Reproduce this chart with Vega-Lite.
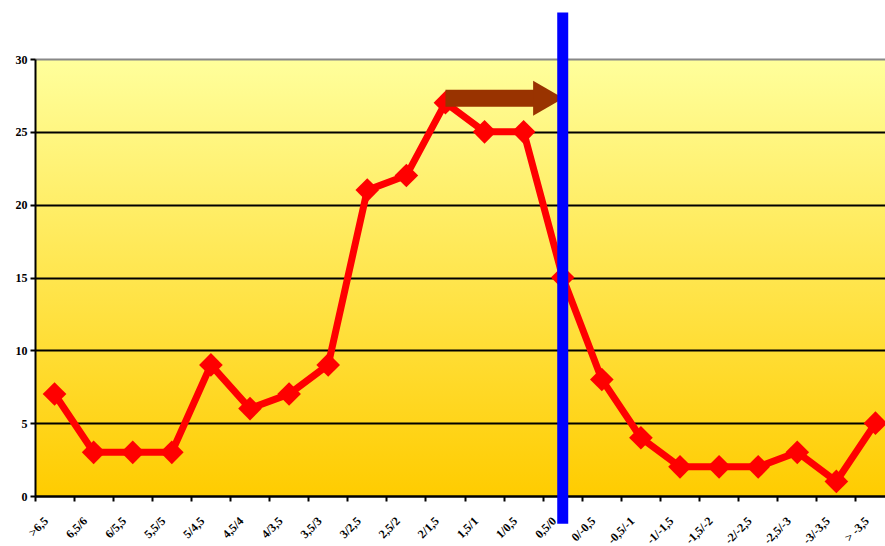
{
  "$schema": "https://vega.github.io/schema/vega-lite/v6.json",
  "autosize": {"type": "none"},
  "padding": {"left": 35, "top": 59, "right": 0, "bottom": 50},
  "width": 850,
  "height": 437,
  "background": "white",
  "view": {"stroke": null, "fill": {"gradient": "linear", "x1": 0, "y1": 0, "x2": 0, "y2": 1, "stops": [{"offset": 0, "color": "#FFFF9C"}, {"offset": 1, "color": "#FFCC00"}]}},
  "config": {
    "axis": {"labelFont": "Liberation Serif", "labelFontWeight": "bold", "labelFontSize": 12, "labelColor": "black", "domainColor": "black", "domainWidth": 2, "tickColor": "black", "tickWidth": 2, "tickSize": 5, "title": null}
  },
  "data": {"values": [
    {"k": ">6,5", "n": 7},
    {"k": "6,5/6", "n": 3},
    {"k": "6/5,5", "n": 3},
    {"k": "5,5/5", "n": 3},
    {"k": "5/4,5", "n": 9},
    {"k": "4,5/4", "n": 6},
    {"k": "4/3,5", "n": 7},
    {"k": "3,5/3", "n": 9},
    {"k": "3/2,5", "n": 21},
    {"k": "2,5/2", "n": 22},
    {"k": "2/1,5", "n": 27},
    {"k": "1,5/1", "n": 25},
    {"k": "1/0,5", "n": 25},
    {"k": "0,5/0", "n": 15},
    {"k": "0/-0,5", "n": 8},
    {"k": "-0,5/-1", "n": 4},
    {"k": "-1/-1,5", "n": 2},
    {"k": "-1,5/-2", "n": 2},
    {"k": "-2/-2,5", "n": 2},
    {"k": "-2,5/-3", "n": 3},
    {"k": "-3/-3,5", "n": 1},
    {"k": "> -3,5", "n": 5}
  ]},
  "layer": [
    {
      "mark": {"type": "line", "color": "#FF0000", "strokeWidth": 7},
      "encoding": {
        "x": {"field": "k", "type": "nominal", "sort": null, "bandPosition": 0.5,
          "scale": {"type": "band", "paddingInner": 0, "paddingOuter": 0, "range": [0, 860]},
          "axis": {"labelAngle": -45, "bandPosition": 0, "labelPadding": 14, "labelOffset": -12, "title": null, "grid": false}},
        "y": {"field": "n", "type": "quantitative",
          "scale": {"domain": [0, 30], "nice": false, "zero": true},
          "axis": {"values": [0, 5, 10, 15, 20, 25, 30], "grid": true, "gridWidth": 2,
            "gridColor": {"condition": {"test": "datum.value === 30", "value": "#888888"}, "value": "black"},
            "labelPadding": 3, "title": null}}
      }
    },
    {
      "mark": {"type": "point", "shape": "diamond", "filled": true, "color": "#FF0000", "size": 560, "opacity": 1},
      "encoding": {
        "x": {"field": "k", "type": "nominal", "sort": null, "bandPosition": 0.5},
        "y": {"field": "n", "type": "quantitative"}
      }
    },
    {
      "data": {"values": [{}]},
      "mark": {"type": "rule", "color": "#993300", "strokeWidth": 17, "strokeCap": "butt"},
      "encoding": {
        "x": {"datum": "2/1,5", "bandPosition": 0.5},
        "x2": {"datum": "0,5/0", "bandPosition": 0},
        "y": {"datum": 27.3}
      }
    },
    {
      "data": {"values": [{}]},
      "mark": {"type": "point", "shape": "triangle-right", "filled": true, "color": "#993300", "size": 1225, "opacity": 1},
      "encoding": {
        "x": {"datum": "0,5/0", "bandPosition": 0.13},
        "y": {"datum": 27.3}
      }
    },
    {
      "data": {"values": [{}]},
      "mark": {"type": "rule", "color": "#0000FF", "strokeWidth": 11, "strokeCap": "butt"},
      "encoding": {
        "x": {"datum": "0,5/0", "bandPosition": 0.5},
        "y": {"datum": 33.2},
        "y2": {"datum": -1.9}
      }
    }
  ]
}
